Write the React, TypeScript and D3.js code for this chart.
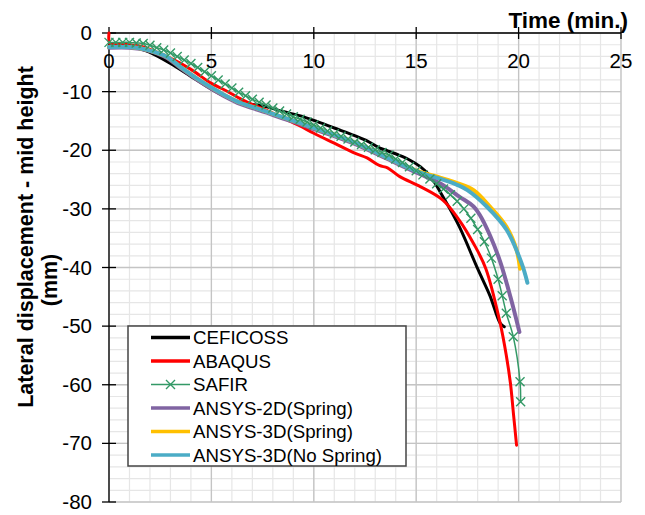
import React from 'react';
import * as d3 from 'd3';

const W = 645;
const H = 515;

const xTicks = [0, 5, 10, 15, 20, 25];
const yTicks = [0, -10, -20, -30, -40, -50, -60, -70, -80];
const xMinor = d3.range(0, 26, 1);
const yMinor = d3.range(0, -81, -2);

const xTitle = 'Time (min.)';
const yTitle1 = 'Lateral displacement - mid height';
const yTitle2 = '(mm)';

const ceficoss: [number, number][] = [
  [0, -2.2], [1, -2.3], [1.5, -2.7], [2, -3.3], [3, -5.2], [4, -7.4], [5, -9.6], [5.7, -10.9],
  [6.4, -11.8], [7, -12.2], [7.7, -12.6], [8.5, -13.4], [9.3, -14.1], [10, -14.9], [11, -16.2],
  [12, -17.5], [12.6, -18.4], [13.2, -19.6], [13.6, -20.1], [14.2, -20.9], [14.7, -21.7],
  [15.2, -22.8], [15.7, -24.5], [16.4, -28.5], [17.1, -33.0], [18.0, -40.2], [18.6, -44.8],
  [19.1, -49.5], [19.3, -50.1],
];

const abaqus: [number, number][] = [
  [0, 0], [0.05, -1.8], [0.5, -1.9], [1, -2.0], [1.5, -2.2], [2, -2.8], [3, -4.3], [4, -6.2],
  [5, -8.6], [5.7, -9.8], [6.4, -11.2], [7, -12.2], [7.7, -13.2], [8.5, -14.5], [9.3, -15.8],
  [10, -17.1], [11, -18.8], [12, -20.5], [12.6, -21.3], [13.2, -22.6], [13.6, -23.0], [14.2, -24.5],
  [15.2, -26.2], [16.3, -28.5], [17.1, -31.9], [17.8, -35.9], [18.4, -40.2], [19.1, -49.5],
  [19.4, -55.0], [19.6, -59.7], [19.75, -65.0], [19.9, -70.3],
];

const safirT = [
  0, 0.33, 0.67, 1, 1.33, 1.67, 2, 2.33, 2.67, 3, 3.33, 3.67, 4, 4.33, 4.67, 5, 5.33, 5.67, 6, 6.33,
  6.67, 7, 7.33, 7.67, 8, 8.33, 8.67, 9, 9.33, 9.67, 10, 10.33, 10.67, 11, 11.33, 11.67, 12, 12.33,
  12.67, 13, 13.33, 13.67, 14, 14.33, 14.67, 15, 15.33, 15.67, 16, 16.33, 16.67, 17, 17.33, 17.67,
  18, 18.33, 18.67, 19, 19.2, 19.4, 19.74, 20.07, 20.1,
];
const safirD = [
  -1.6, -1.6, -1.6, -1.6, -1.7, -1.8, -2.1, -2.5, -2.9, -3.4, -4.0, -4.6, -5.2, -5.9, -6.6, -7.3,
  -8.0, -8.7, -9.4, -10.1, -10.7, -11.3, -11.8, -12.3, -12.8, -13.3, -13.8, -14.3, -14.7, -15.2,
  -15.7, -16.2, -16.7, -17.2, -17.6, -18.1, -18.6, -19.0, -19.5, -19.9, -20.4, -20.8, -21.5, -22.1,
  -22.8, -23.5, -24.2, -24.9, -25.7, -26.6, -27.6, -28.7, -30.0, -31.6, -33.5, -35.6, -38.4, -42.0,
  -44.8, -47.8, -51.8, -59.5, -62.9,
];

const ansys2d: [number, number][] = [
  [0, -2.5], [1, -2.5], [1.5, -2.7], [2, -3.1], [2.8, -4.2], [3.5, -6.0], [4.4, -8.2], [5, -9.5],
  [5.7, -10.9], [6.4, -12.1], [7, -12.8], [7.7, -13.6], [8.5, -14.6], [9.3, -15.5], [10, -16.4],
  [11, -17.6], [12, -18.9], [13, -20.5], [13.6, -21.5], [14.2, -22.5], [15.2, -24.1], [16.2, -25.7],
  [17.1, -27.9], [17.8, -29.6], [18.1, -31.0], [18.6, -34.5], [19.1, -39.0], [19.6, -45.0],
  [20.04, -51.0],
];

const ansys3dSpring: [number, number][] = [
  [0, -2.4], [1, -2.4], [1.5, -2.6], [2, -3.0], [2.8, -4.0], [3.5, -5.8], [4.4, -8.0], [5, -9.3],
  [5.7, -10.7], [6.4, -11.9], [7, -12.6], [7.7, -13.4], [8.5, -14.4], [9.3, -15.3], [10, -16.2],
  [11, -17.4], [12, -18.7], [13, -20.3], [13.6, -21.3], [14.2, -22.3], [15.2, -23.7], [16.2, -24.7],
  [17, -25.6], [17.8, -26.8], [18.6, -29.6], [19.4, -33.0], [19.9, -37.0], [20.07, -40.2],
];

const ansys3dNoSpring: [number, number][] = [
  [0, -2.4], [1, -2.4], [1.5, -2.6], [2, -3.0], [2.8, -4.0], [3.5, -5.8], [4.4, -8.0], [5, -9.3],
  [5.7, -10.7], [6.4, -11.9], [7, -12.6], [7.7, -13.4], [8.5, -14.4], [9.3, -15.3], [10, -16.2],
  [11, -17.4], [12, -18.7], [13, -20.3], [13.6, -21.3], [14.2, -22.3], [15.2, -23.8], [16.2, -24.9],
  [17, -25.9], [17.5, -26.8], [18.44, -29.6], [19.42, -33.6], [20.15, -39.3], [20.43, -42.6],
];

const legendNames = [
  'CEFICOSS',
  'ABAQUS',
  'SAFIR',
  'ANSYS-2D(Spring)',
  'ANSYS-3D(Spring)',
  'ANSYS-3D(No Spring)',
];
const colors = ['#000000', '#ff0000', '#339966', '#8064a2', '#ffc000', '#4bacc6'];
const widths = [3, 3, 1.5, 4, 4, 4];

const FONT = 'Liberation Sans, Arial, sans-serif';

export default function App() {
  const x = d3.scaleLinear().domain([0, 25]).range([109, 621]);
  const y = d3.scaleLinear().domain([0, -80]).range([33, 502]);

  const line = d3
    .line<[number, number]>()
    .x((d) => x(d[0]))
    .y((d) => y(d[1]))
    .curve(d3.curveCatmullRom.alpha(0.5));

  const safir: [number, number][] = safirT.map((t, i) => [t, safirD[i]]);
  const series = [ceficoss, abaqus, safir, ansys2d, ansys3dSpring, ansys3dNoSpring];

  const cross = (cx: number, cy: number, s: number, key: string | number, color: string) => (
    <path
      key={key}
      d={`M${cx - s},${cy - s}L${cx + s},${cy + s}M${cx - s},${cy + s}L${cx + s},${cy - s}`}
      stroke={color}
      strokeWidth={1.4}
      fill="none"
    />
  );

  const legX = 128;
  const legY = 326;
  const legW = 278;
  const legH = 140;
  const rowY = (i: number) => 337.5 + i * 23.5;

  return (
    <div style={{ position: 'absolute', left: 0, top: 0 }}>
      <svg width={W} height={H} style={{ display: 'block', background: '#fff' }}>
        <rect x={0} y={0} width={W} height={H} fill="#fff" />
        {xMinor.map((v) => (
          <line key={'xm' + v} x1={x(v)} x2={x(v)} y1={y(0)} y2={y(-80)} stroke="#e6e6e6" strokeWidth={1.2} />
        ))}
        {yMinor.map((v) => (
          <line key={'ym' + v} x1={x(0)} x2={x(25)} y1={y(v)} y2={y(v)} stroke="#e6e6e6" strokeWidth={1.2} />
        ))}
        {xTicks.map((v) => (
          <line key={'xg' + v} x1={x(v)} x2={x(v)} y1={y(0)} y2={y(-80)} stroke="#c4c4c4" strokeWidth={1.3} />
        ))}
        {yTicks.map((v) => (
          <line key={'yg' + v} x1={x(0)} x2={x(25)} y1={y(v)} y2={y(v)} stroke="#c4c4c4" strokeWidth={1.3} />
        ))}
        <line x1={x(0)} x2={x(25)} y1={y(0)} y2={y(0)} stroke="#000" strokeWidth={1.3} />
        <line x1={x(0)} x2={x(0)} y1={y(0)} y2={y(-80)} stroke="#000" strokeWidth={1.3} />
        {xTicks.map((v) => (
          <line key={'xt' + v} x1={x(v)} x2={x(v)} y1={y(0) - 6} y2={y(0) + 6} stroke="#000" strokeWidth={1.3} />
        ))}
        {yTicks.map((v) => (
          <line key={'yt' + v} x1={x(0) - 7} x2={x(0) + 7} y1={y(v)} y2={y(v)} stroke="#000" strokeWidth={1.3} />
        ))}
        {xTicks.map((v) => (
          <text key={'xl' + v} x={x(v)} y={68} textAnchor="middle" fontFamily={FONT} fontSize={20.5} fill="#000">
            {v}
          </text>
        ))}
        {yTicks.map((v) => (
          <text
            key={'yl' + v}
            x={92}
            y={y(v) + 7}
            textAnchor="end"
            fontFamily={FONT}
            fontSize={20.5}
            fill="#000"
          >
            {v}
          </text>
        ))}
        {series.map((s, i) => (
          <path
            key={'s' + i}
            d={line(s) || ''}
            fill="none"
            stroke={colors[i]}
            strokeWidth={widths[i]}
            strokeLinejoin="round"
            strokeLinecap="round"
          />
        ))}
        {safir.map((d, i) => cross(x(d[0]), y(d[1]), 4.5, 'm' + i, colors[2]))}
        <text x={628} y={28} textAnchor="end" fontFamily={FONT} fontSize={22.5} fontWeight="bold" fill="#000">
          {xTitle}
        </text>
        <text
          transform="translate(33,237) rotate(-90)"
          textAnchor="middle"
          fontFamily={FONT}
          fontSize={21.5}
          fontWeight="bold"
          fill="#000"
        >
          {yTitle1}
        </text>
        <text
          transform="translate(57,280) rotate(-90)"
          textAnchor="middle"
          fontFamily={FONT}
          fontSize={21.5}
          fontWeight="bold"
          fill="#000"
        >
          {yTitle2}
        </text>
        <rect x={legX} y={legY} width={legW} height={legH} fill="#fff" stroke="#444" strokeWidth={1.5} />
        {legendNames.map((n, i) => (
          <g key={'lg' + i}>
            <line
              x1={151}
              x2={190}
              y1={rowY(i)}
              y2={rowY(i)}
              stroke={colors[i]}
              strokeWidth={i === 2 ? 1.5 : 3.5}
            />
            {i === 2 ? cross(170.5, rowY(i), 4.5, 'lm', colors[2]) : null}
            <text x={193} y={rowY(i) + 6.5} fontFamily={FONT} fontSize={18.7} fill="#000">
              {n}
            </text>
          </g>
        ))}
      </svg>
    </div>
  );
}
